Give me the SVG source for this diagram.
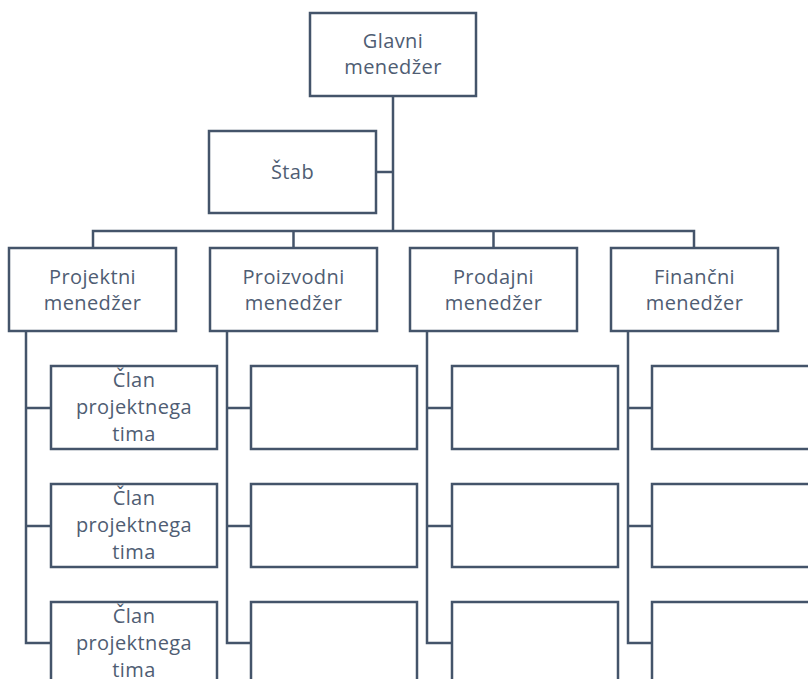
<svg xmlns="http://www.w3.org/2000/svg" width="808" height="679" viewBox="0 0 808 679">
  <style>
    .box { fill: #FFFFFF; stroke: #44546A; stroke-width: 2.5; }
    .wire { fill: none; stroke: #44546A; stroke-width: 2.5; }
    .lbl { font-family: "Open Sans", "Noto Sans", sans-serif; font-size: 20px; letter-spacing: 0.4px; fill: #4F5D73; text-anchor: middle; }
  </style>
  <rect width="808" height="679" fill="#FFFFFF"/>

  <!-- connectors -->
  <g id="connectors">
    <!-- trunk from the general manager to the bus -->
    <path class="wire" d="M393 96 V231"/>
    <path class="wire" d="M376 172 H393"/>
    <!-- bus to the four managers -->
    <path class="wire" d="M93 248 V231 H694 V248"/>
    <path class="wire" d="M293.5 231 V248"/>
    <path class="wire" d="M493.5 231 V248"/>
    <!-- column spines and branches -->
    <path class="wire" d="M26 331 V643 H51 M26 408 H51 M26 526 H51"/>
    <path class="wire" d="M227 331 V643 H251 M227 408 H251 M227 526 H251"/>
    <path class="wire" d="M427 331 V643 H452 M427 408 H452 M427 526 H452"/>
    <path class="wire" d="M628 331 V643 H652 M628 408 H652 M628 526 H652"/>
  </g>

  <g id="glavni">
    <rect class="box" x="310" y="13" width="166" height="83"/>
    <text class="lbl" x="393" y="48">Glavni</text>
    <text class="lbl" x="393" y="74">menedžer</text>
  </g>

  <g id="stab">
    <rect class="box" x="209" y="131" width="167" height="82"/>
    <text class="lbl" x="292.5" y="179">Štab</text>
  </g>

  <g id="projektni">
    <rect class="box" x="9" y="248" width="167" height="83"/>
    <text class="lbl" x="92.5" y="284">Projektni</text>
    <text class="lbl" x="92.5" y="310">menedžer</text>
  </g>
  <g id="proizvodni">
    <rect class="box" x="210" y="248" width="167" height="83"/>
    <text class="lbl" x="293.5" y="284">Proizvodni</text>
    <text class="lbl" x="293.5" y="310">menedžer</text>
  </g>
  <g id="prodajni">
    <rect class="box" x="410" y="248" width="167" height="83"/>
    <text class="lbl" x="493.5" y="284">Prodajni</text>
    <text class="lbl" x="493.5" y="310">menedžer</text>
  </g>
  <g id="financni">
    <rect class="box" x="611" y="248" width="167" height="83"/>
    <text class="lbl" x="694.5" y="284">Finančni</text>
    <text class="lbl" x="694.5" y="310">menedžer</text>
  </g>

  <!-- project team members -->
  <g id="clan1">
    <rect class="box" x="51" y="366" width="166" height="83"/>
    <text class="lbl" x="134" y="387">Član</text>
    <text class="lbl" x="134" y="414">projektnega</text>
    <text class="lbl" x="134" y="441">tima</text>
  </g>
  <g id="clan2">
    <rect class="box" x="51" y="484" width="166" height="83"/>
    <text class="lbl" x="134" y="505">Član</text>
    <text class="lbl" x="134" y="532">projektnega</text>
    <text class="lbl" x="134" y="559">tima</text>
  </g>
  <g id="clan3">
    <rect class="box" x="51" y="602" width="166" height="83"/>
    <text class="lbl" x="134" y="623">Član</text>
    <text class="lbl" x="134" y="650">projektnega</text>
    <text class="lbl" x="134" y="677">tima</text>
  </g>

  <!-- empty member slots -->
  <g id="proizvodni1"><rect class="box" x="251" y="366" width="166" height="83"/></g>
  <g id="proizvodni2"><rect class="box" x="251" y="484" width="166" height="83"/></g>
  <g id="proizvodni3"><rect class="box" x="251" y="602" width="166" height="83"/></g>
  <g id="prodajni1"><rect class="box" x="452" y="366" width="166" height="83"/></g>
  <g id="prodajni2"><rect class="box" x="452" y="484" width="166" height="83"/></g>
  <g id="prodajni3"><rect class="box" x="452" y="602" width="166" height="83"/></g>
  <g id="financni1"><rect class="box" x="652" y="366" width="166" height="83"/></g>
  <g id="financni2"><rect class="box" x="652" y="484" width="166" height="83"/></g>
  <g id="financni3"><rect class="box" x="652" y="602" width="166" height="83"/></g>
</svg>
